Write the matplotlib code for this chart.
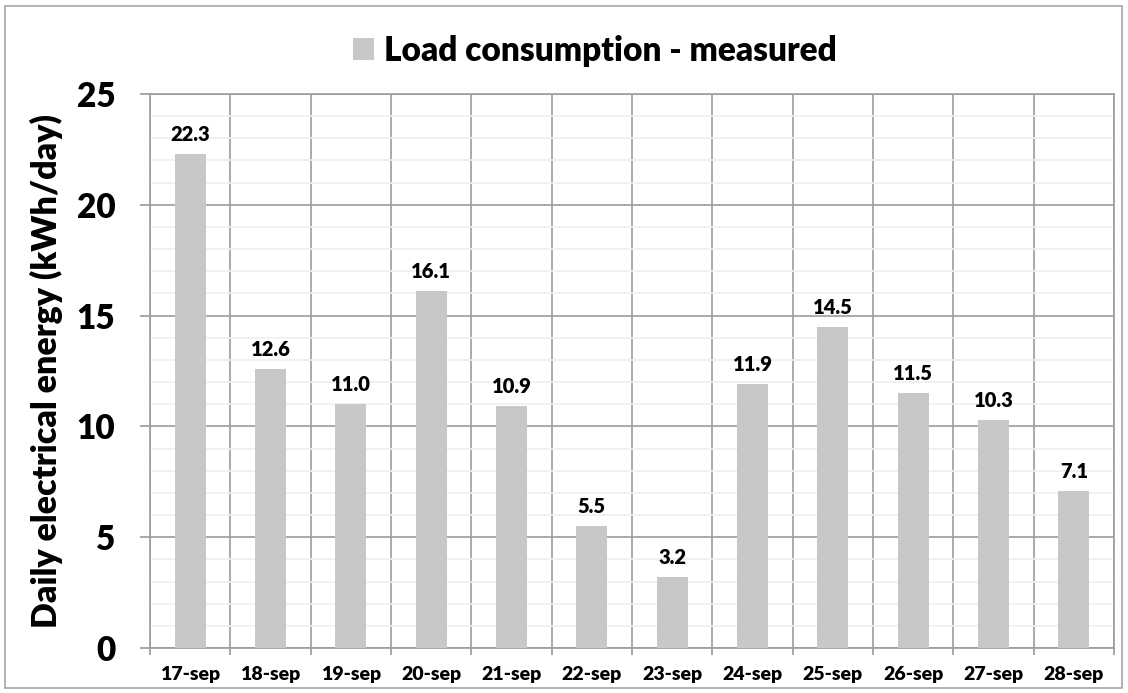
import matplotlib
matplotlib.use('Agg')
from matplotlib import pyplot as plt
from matplotlib.patches import Rectangle
import numpy as np

days = ['17-sep', '18-sep', '19-sep', '20-sep', '21-sep', '22-sep',
        '23-sep', '24-sep', '25-sep', '26-sep', '27-sep', '28-sep']
load_measured = [22.3, 12.6, 11.0, 16.1, 10.9, 5.5, 3.2, 11.9, 14.5, 11.5, 10.3, 7.1]

W = 'heavy'
plt.rcParams['font.family'] = ['Lato', 'DejaVu Sans']
plt.rcParams['font.weight'] = W

fig = plt.figure(figsize=(11.28, 6.93), dpi=100)
ax = fig.add_axes([150 / 1128, 45 / 693, 964 / 1128, 554 / 693])

# outer chart border
fig.patches.append(Rectangle((5 / 1128, 5 / 693), 1117 / 1128, 682 / 693,
                             transform=fig.transFigure, fill=False,
                             edgecolor='#a6a6a6', linewidth=1.2))

x = np.arange(len(days))
bars = ax.bar(x, load_measured, width=0.39, color='#c8c8c8',
              label='Load consumption - measured', zorder=3)
for xi, v in zip(x, load_measured):
    ax.text(xi, v + 0.45, f'{v:.1f}', ha='center', va='bottom',
            fontsize=14.5, fontweight=W)

ax.set_xlim(-0.5, len(days) - 0.5)
ax.set_ylim(0, 25)

# category boundaries as major x ticks, labels on minor ticks
ax.set_xticks(np.arange(-0.5, len(days), 1.0))
ax.set_xticklabels([])
ax.set_xticks(x, minor=True)
ax.set_xticklabels(days, minor=True, fontsize=14, fontweight=W)
ax.tick_params(axis='x', which='major', length=5, color='#999999', width=1.2)
ax.tick_params(axis='x', which='minor', length=0, pad=13)

ax.set_yticks(np.arange(0, 26, 5))
ax.set_yticks(np.arange(0, 26, 1), minor=True)
ax.tick_params(axis='y', which='major', length=7, color='#999999', width=1.2,
               labelsize=24, pad=18)
ax.tick_params(axis='y', which='minor', length=0)
for lbl in ax.get_yticklabels():
    lbl.set_fontweight(W)

ax.grid(axis='y', which='major', color='#9c9c9c', linewidth=1.2, zorder=1)
ax.grid(axis='y', which='minor', color='#efefef', linewidth=1.2, zorder=0)
ax.grid(axis='x', which='major', color='#9c9c9c', linewidth=1.2, zorder=1)
ax.set_axisbelow(True)

for s in ax.spines.values():
    s.set_color('#9c9c9c')
    s.set_linewidth(1.2)

ax.set_ylabel('Daily electrical energy (kWh/day)', fontsize=24.5, fontweight=W)
ax.yaxis.set_label_coords(-87 / 964, 0.5)

fig.legend(handles=[bars], loc='center', bbox_to_anchor=(595 / 1128, 1 - 51 / 693),
           frameon=False, handlelength=0.62, handleheight=0.62,
           handletextpad=0.3, prop={'weight': W, 'size': 24})

fig.savefig('out.png', dpi=100)
